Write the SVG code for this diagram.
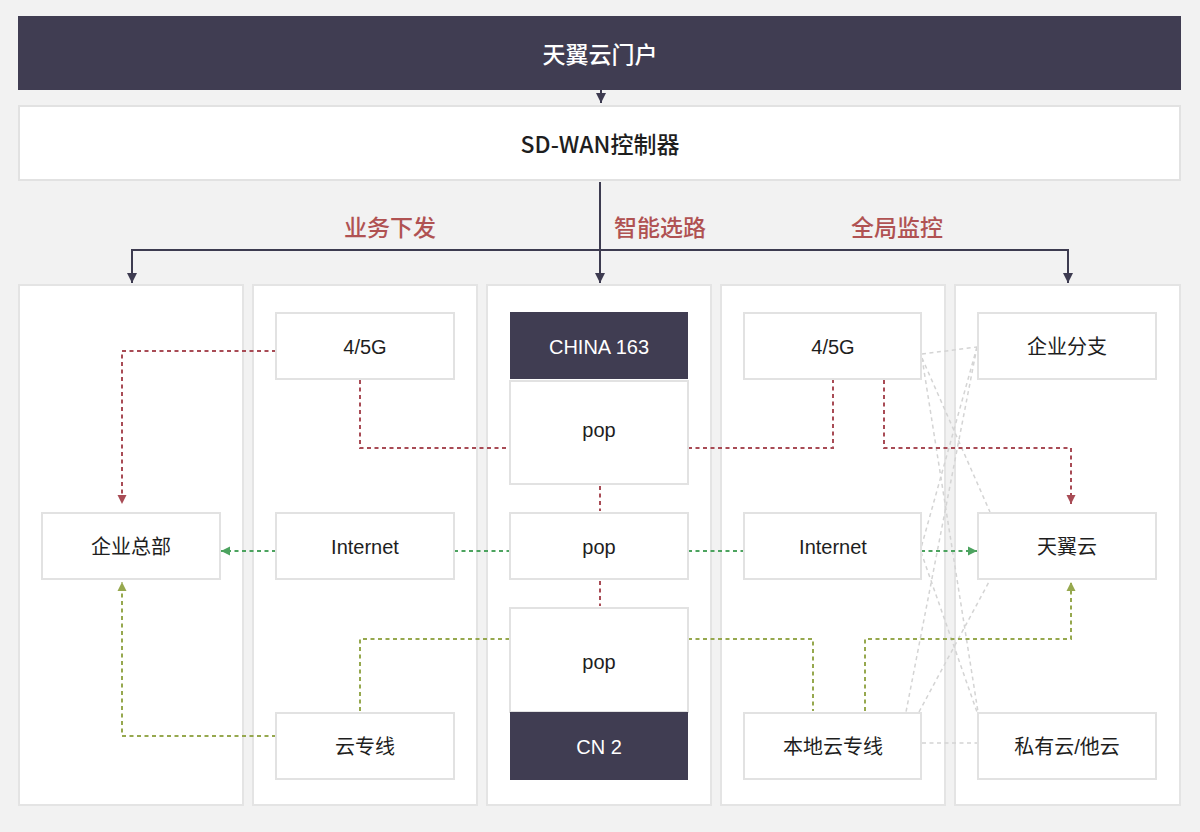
<svg xmlns="http://www.w3.org/2000/svg" width="1200" height="832" viewBox="0 0 1200 832">
<style>
.bg{fill:#f2f2f2}
.col{fill:#ffffff;stroke:#e4e4e4;stroke-width:2}
.box{fill:#ffffff;stroke:#e2e2e2;stroke-width:2}
.dark{fill:#403d52}
.t{font-family:"Liberation Sans","Noto Sans CJK SC",sans-serif;font-size:20px;fill:#1e1e1e;text-anchor:middle;dominant-baseline:central}
.tw{fill:#ffffff}
.big{font-family:"Noto Sans CJK SC",sans-serif;font-size:23px;font-weight:500}
.lbl{font-family:"Noto Sans CJK SC",sans-serif;font-size:23px;font-weight:500;fill:#b05252;text-anchor:middle;dominant-baseline:central}
.main{fill:none;stroke:#3d3b50;stroke-width:2}
.red{fill:none;stroke:#a84b55;stroke-width:2;stroke-dasharray:4 3.5}
.grn{fill:none;stroke:#4ca35f;stroke-width:2;stroke-dasharray:4 3.5}
.olv{fill:none;stroke:#96a84e;stroke-width:2;stroke-dasharray:4 3.5}
.gry{fill:none;stroke:#d4d4d4;stroke-width:1.5;stroke-dasharray:4 3.5}
</style>
<defs>
<marker id="aMain" viewBox="0 0 10 10" refX="10" refY="5" markerUnits="userSpaceOnUse" markerWidth="10" markerHeight="11" orient="auto"><path d="M0,0 L10,5 L0,10 z" fill="#3d3b50"/></marker>
<marker id="aRed" viewBox="0 0 10 10" refX="10" refY="5" markerUnits="userSpaceOnUse" markerWidth="9" markerHeight="11" orient="auto"><path d="M0,0 L10,5 L0,10 z" fill="#a84b55"/></marker>
<marker id="aGrn" viewBox="0 0 10 10" refX="10" refY="5" markerUnits="userSpaceOnUse" markerWidth="9" markerHeight="11" orient="auto"><path d="M0,0 L10,5 L0,10 z" fill="#4ca35f"/></marker>
<marker id="aOlv" viewBox="0 0 10 10" refX="10" refY="5" markerUnits="userSpaceOnUse" markerWidth="9" markerHeight="11" orient="auto"><path d="M0,0 L10,5 L0,10 z" fill="#96a84e"/></marker>
</defs>
<rect class="bg" x="0" y="0" width="1200" height="832"/>

<g id="portal"><rect class="dark" x="18" y="16" width="1163" height="74"/><text class="t tw big" x="600" y="53">天翼云门户</text></g>
<g id="controller"><rect class="box" x="19" y="106" width="1161" height="74"/><text class="t big" x="600" y="143">SD-WAN控制器</text></g>

<g id="labels">
<text class="lbl" x="390" y="226">业务下发</text>
<text class="lbl" x="660" y="226">智能选路</text>
<text class="lbl" x="897" y="226">全局监控</text>
</g>

<g id="columns">
<rect class="col" x="19" y="285" width="224" height="520"/>
<rect class="col" x="253" y="285" width="224" height="520"/>
<rect class="col" x="487" y="285" width="224" height="520"/>
<rect class="col" x="721" y="285" width="224" height="520"/>
<rect class="col" x="955" y="285" width="225" height="520"/>
</g>

<g id="connectors">
<path class="main" d="M601,90 V103" marker-end="url(#aMain)"/>
<path class="main" d="M600,182 V283" marker-end="url(#aMain)"/>
<path class="main" d="M600,250 H132 V283" marker-end="url(#aMain)"/>
<path class="main" d="M600,250 H1068 V283" marker-end="url(#aMain)"/>

<path class="gry" d="M922,354 L977,347"/>
<path class="gry" d="M922,358 L990,512"/>
<path class="gry" d="M922,358 L978,712"/>
<path class="gry" d="M977,347 L921,548"/>
<path class="gry" d="M977,347 L906,712"/>
<path class="gry" d="M921,552 L977,712"/>
<path class="gry" d="M919,712 L990,580"/>
<path class="gry" d="M922,743 H977"/>

<path class="red" d="M276,351 H122 V504" marker-end="url(#aRed)"/>
<path class="red" d="M360,380 V448 H510"/>
<path class="red" d="M688,448 H833 V380"/>
<path class="red" d="M884,380 V448 H1071 V504" marker-end="url(#aRed)"/>
<path class="red" d="M600,486 V511"/>
<path class="red" d="M600,581 V606"/>

<path class="grn" d="M276,551 H221" marker-end="url(#aGrn)"/>
<path class="grn" d="M454,551 H510"/>
<path class="grn" d="M688,551 H744"/>
<path class="grn" d="M921,551 H977" marker-end="url(#aGrn)"/>

<path class="olv" d="M276,736 H122 V582" marker-end="url(#aOlv)"/>
<path class="olv" d="M360,711 V639 H510"/>
<path class="olv" d="M688,639 H813 V711"/>
<path class="olv" d="M865,711 V639 H1071 V582" marker-end="url(#aOlv)"/>
</g>

<g id="hq"><rect class="box" x="42" y="513" width="178" height="66"/><text class="t" x="131" y="547">企业总部</text></g>
<g id="g45a"><rect class="box" x="276" y="313" width="178" height="66"/><text class="t" x="365" y="347">4/5G</text></g>
<g id="neta"><rect class="box" x="276" y="513" width="178" height="66"/><text class="t" x="365" y="547">Internet</text></g>
<g id="cloudline"><rect class="box" x="276" y="713" width="178" height="66"/><text class="t" x="365" y="747">云专线</text></g>

<g id="china163"><rect class="dark" x="510" y="312" width="178" height="67"/><text class="t tw" x="599" y="347">CHINA 163</text></g>
<g id="pop1"><rect class="box" x="510" y="381" width="178" height="103"/><text class="t" x="599" y="430">pop</text></g>
<g id="pop2"><rect class="box" x="510" y="513" width="178" height="66"/><text class="t" x="599" y="547">pop</text></g>
<g id="pop3"><rect class="box" x="510" y="608" width="178" height="104"/><text class="t" x="599" y="662">pop</text></g>
<g id="cn2"><rect class="dark" x="510" y="712" width="178" height="68"/><text class="t tw" x="599" y="747">CN 2</text></g>

<g id="g45b"><rect class="box" x="744" y="313" width="177" height="66"/><text class="t" x="833" y="347">4/5G</text></g>
<g id="netb"><rect class="box" x="744" y="513" width="177" height="66"/><text class="t" x="833" y="547">Internet</text></g>
<g id="localline"><rect class="box" x="744" y="713" width="177" height="66"/><text class="t" x="833" y="747">本地云专线</text></g>

<g id="branch"><rect class="box" x="978" y="313" width="178" height="66"/><text class="t" x="1067" y="347">企业分支</text></g>
<g id="tianyi"><rect class="box" x="978" y="513" width="178" height="66"/><text class="t" x="1067" y="547">天翼云</text></g>
<g id="private"><rect class="box" x="978" y="713" width="178" height="66"/><text class="t" x="1067" y="747">私有云/他云</text></g>
</svg>
